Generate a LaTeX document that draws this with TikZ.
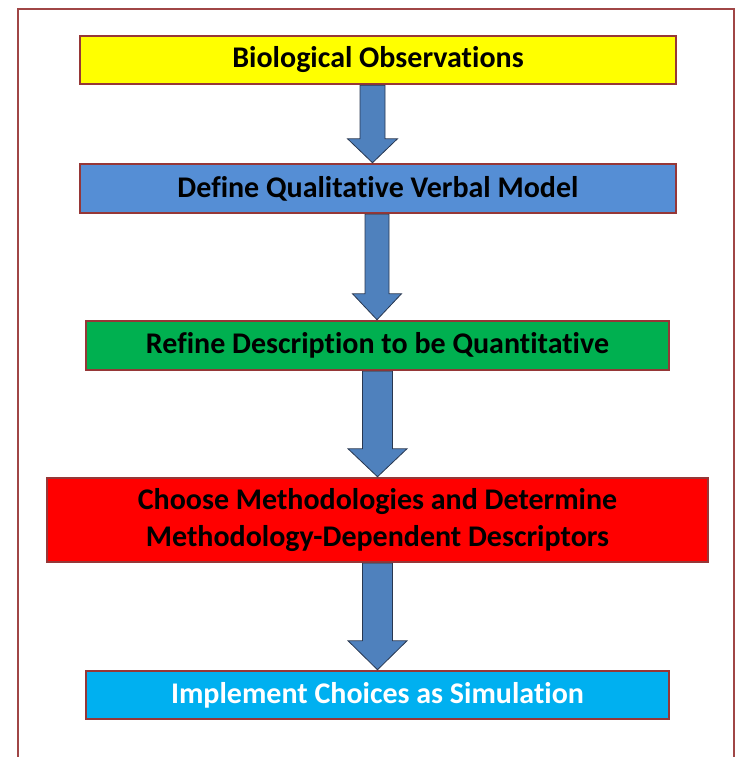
\documentclass[tikz,border=0pt]{standalone}
\usepackage{fontspec}
\setmainfont{Carlito}[Ligatures=NoCommon]
\usetikzlibrary{calc}
\definecolor{edgered}{RGB}{150,55,55}
\definecolor{frameRed}{RGB}{160,70,70}
\definecolor{bYellow}{RGB}{255,255,0}
\definecolor{bBlue}{RGB}{85,142,213}
\definecolor{bGreen}{RGB}{0,176,80}
\definecolor{bRed}{RGB}{255,0,0}
\definecolor{bCyan}{RGB}{0,176,240}
\definecolor{arrFill}{RGB}{79,129,189}
\definecolor{arrEdge}{RGB}{40,55,80}
\tikzset{
  stepbox/.style={draw=edgered, line width=2.5pt, inner sep=0pt, align=center,
    font=\fontsize{30}{37}\selectfont\bfseries},
  arrowstyle/.style={fill=arrFill, draw=arrEdge, line width=0.8pt, line join=miter},
  framestyle/.style={draw=frameRed, line width=1.5pt}
}
\newcommand{\flowarrow}[6]{%
  \draw[arrowstyle] let \p1=(#1.south), \p2=(#2.north) in
    ({(#3-#4)*1pt},\y1) -- ({(#3+#4)*1pt},\y1) -- ({(#3+#4)*1pt},{\y2+#6pt})
    -- ({(#3+#5)*1pt},{\y2+#6pt}) -- ({#3*1pt},\y2) -- ({(#3-#5)*1pt},{\y2+#6pt})
    -- ({(#3-#4)*1pt},{\y2+#6pt}) -- cycle;}
\begin{document}
\begin{tikzpicture}[x=1pt,y=-1pt]
\useasboundingbox (0,0) rectangle (736,757);
\draw[framestyle] (18,757) -- (18,9) -- (734,9) -- (734,757);
\node[stepbox, fill=bYellow, minimum width=596pt, minimum height=48pt] (b1) at (378,60) {Biological Observations};
\node[stepbox, fill=bBlue, minimum width=596pt, minimum height=49pt] (b2) at (378,188.5) {Define Qualitative Verbal Model};
\node[stepbox, fill=bGreen, minimum width=583pt, minimum height=49pt] (b3) at (377.5,345.5) {Refine Description to be Quantitative};
\node[stepbox, fill=bRed, minimum width=661pt, minimum height=84pt] (b4) at (377.5,520) {Choose Methodologies and Determine\\Methodology-Dependent Descriptors};
\node[stepbox, fill=bCyan, text=white, minimum width=583pt, minimum height=48pt] (b5) at (377.5,695) {Implement Choices as Simulation};
\flowarrow{b1}{b2}{372.5}{12.5}{25}{24}
\flowarrow{b2}{b3}{377}{12}{24.5}{26}
\flowarrow{b3}{b4}{377.5}{15}{29.5}{28}
\flowarrow{b4}{b5}{377.5}{15}{29.5}{29}
\end{tikzpicture}
\end{document}
